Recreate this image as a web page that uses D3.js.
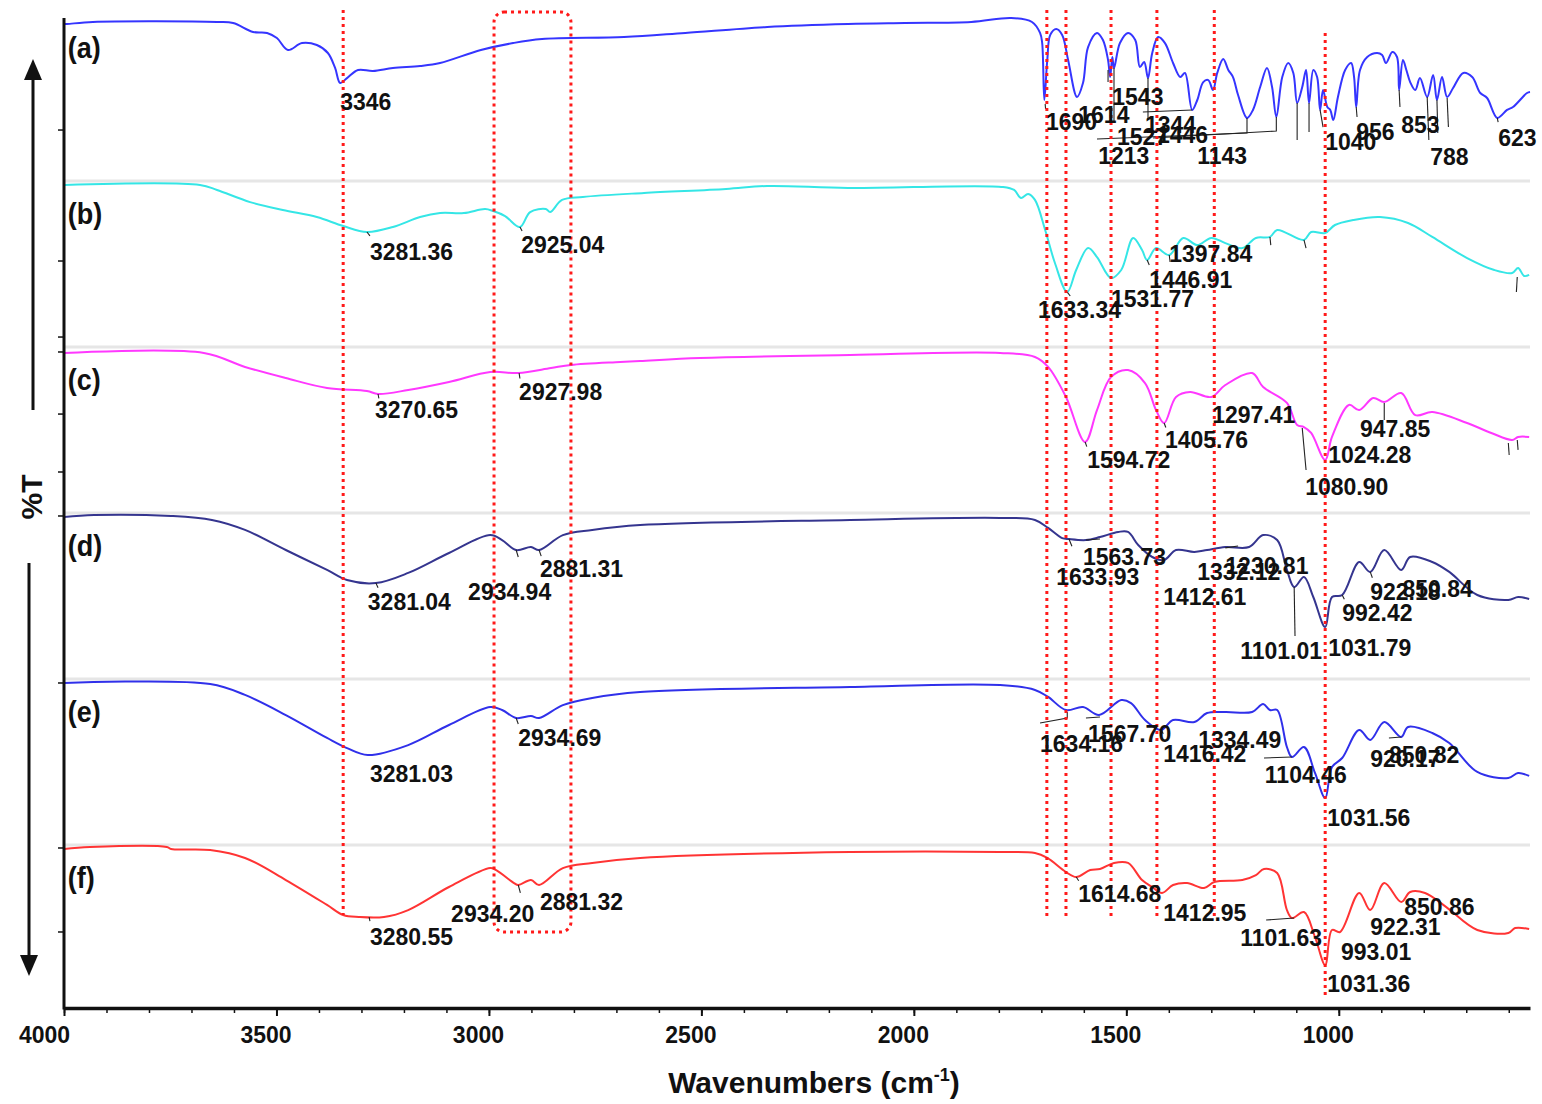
<!DOCTYPE html>
<html><head><meta charset="utf-8">
<script src="https://cdn.jsdelivr.net/npm/d3@7"></script>
<style>
html,body{margin:0;padding:0;background:#fff;}
svg{display:block;font-family:"Liberation Sans",Arial,sans-serif;}
</style></head><body>
<svg id="chart" width="1542" height="1104"></svg>
<script>
// ---------------- DATA ----------------
const wavenumberTicks = [4000,3500,3000,2500,2000,1500,1000];
const minorTicks = d3.range(4000, 549, -100);
const panelNames = ["(a)","(b)","(c)","(d)","(e)","(f)"];
const panelColors = ["#3535ff","#35e6e6","#ff38ff","#35358f","#3030ea","#ff3434"];

const seriesA = [[4000,94.6],[3993,94.6],[3932,95.8],[3640,95.8],[3602,95.2],[3555,89.8],[3522,89.2],[3499,86.1],[3473,78.9],[3440,83.1],[3405,81.9],[3379,77.1],[3362,68.1],[3350,59.0],[3334,62.0],[3308,66.9],[3273,66.3],[3226,68.1],[3162,69.3],[3115,71.1],[3019,78.9],[2943,83.1],[2875,85.5],[2682,86.7],[2538,89.2],[2345,92.8],[2155,94.6],[2021,95.2],[1865,95.8],[1771,98.2],[1722,95.8],[1703,89.2],[1698,83.1],[1693,48.8],[1686,72.9],[1679,88.0],[1665,91.6],[1651,88.0],[1637,72.9],[1616,50.6],[1602,59.0],[1590,80.7],[1569,89.2],[1555,84.9],[1543,72.9],[1538,62.6],[1533,74.7],[1529,68.1],[1515,83.1],[1496,89.2],[1479,84.9],[1468,68.7],[1458,71.7],[1449,62.0],[1439,77.1],[1425,86.7],[1409,83.1],[1390,71.1],[1373,62.6],[1362,65.1],[1345,42.8],[1333,48.8],[1319,59.6],[1307,60.8],[1296,54.8],[1286,65.1],[1272,73.5],[1260,66.9],[1249,62.6],[1237,51.8],[1216,38.0],[1202,42.8],[1185,56.6],[1169,68.1],[1157,56.6],[1147,38.6],[1133,62.6],[1119,71.1],[1107,65.1],[1098,47.0],[1086,56.6],[1077,66.9],[1070,47.0],[1060,66.9],[1051,62.6],[1044,42.8],[1037,54.8],[1027,44.6],[1020,42.8],[1013,36.7],[1002,50.6],[985,66.9],[971,71.1],[964,62.6],[959,44.6],[950,66.9],[933,74.7],[910,77.1],[898,75.9],[889,71.1],[874,77.7],[863,74.7],[858,54.8],[849,72.9],[841,66.9],[832,59.6],[820,54.8],[809,62.0],[792,50.6],[778,63.9],[769,48.8],[757,62.6],[745,50.6],[731,56.0],[707,65.1],[686,62.6],[667,53.0],[651,50.0],[627,38.0],[604,42.8],[590,44.6],[557,53.0],[550,53.6]];
const seriesB = [[4000,97.6],[3680,97.6],[3640,94.6],[3562,87.3],[3485,82.5],[3405,78.3],[3343,72.9],[3287,69.3],[3226,72.3],[3162,78.3],[3115,80.7],[3059,80.7],[3009,83.1],[2990,81.9],[2962,78.9],[2927,72.3],[2903,81.3],[2866,83.1],[2856,81.3],[2828,88.6],[2779,90.4],[2635,92.8],[2442,95.2],[2345,97.0],[2155,95.8],[1790,96.4],[1764,94.6],[1748,89.8],[1731,92.2],[1715,88.6],[1691,70.5],[1668,50.6],[1639,33.1],[1618,46.4],[1590,59.6],[1569,54.2],[1536,41.6],[1512,46.4],[1484,65.7],[1463,58.4],[1451,52.4],[1430,59.6],[1399,55.4],[1366,65.7],[1333,61.4],[1300,65.7],[1267,62.6],[1227,59.6],[1195,65.7],[1162,66.3],[1145,70.5],[1082,64.5],[1065,69.3],[1032,68.7],[1009,73.5],[966,76.5],[903,78.3],[837,74.7],[780,66.3],[698,53.6],[634,46.4],[592,44.6],[578,47.6],[564,42.8],[552,43.4]];
const seriesC = [[4000,96.4],[3671,96.4],[3574,88.0],[3478,81.3],[3381,75.3],[3287,73.5],[3261,71.7],[3190,74.1],[3094,78.9],[2997,84.9],[2931,84.3],[2854,87.3],[2807,89.2],[2691,91.0],[2644,91.6],[2503,93.4],[2150,95.2],[1797,96.4],[1715,94.0],[1684,88.0],[1642,69.9],[1597,42.8],[1569,62.0],[1536,81.9],[1496,86.1],[1456,78.3],[1430,62.0],[1411,54.2],[1383,69.9],[1350,72.9],[1300,69.9],[1267,77.1],[1204,84.3],[1178,75.9],[1122,66.3],[1098,53.0],[1082,51.8],[1065,48.2],[1032,31.9],[1016,45.8],[976,65.1],[952,62.0],[919,69.3],[893,66.9],[853,72.3],[820,59.0],[780,60.8],[698,54.2],[641,48.2],[592,44.0],[578,45.8],[552,45.8]];
const seriesD = [[4000,97.6],[3929,98.8],[3748,98.2],[3652,95.8],[3574,89.8],[3478,77.7],[3381,65.7],[3334,59.6],[3266,57.8],[3190,63.9],[3094,75.9],[2997,86.7],[2969,83.7],[2936,77.7],[2901,79.5],[2882,77.7],[2826,86.7],[2757,89.8],[2644,92.8],[2150,95.8],[1797,97.0],[1715,95.8],[1684,91.0],[1651,84.9],[1635,84.3],[1595,83.7],[1562,85.5],[1519,88.6],[1496,88.6],[1472,80.7],[1439,73.5],[1411,71.7],[1383,77.7],[1340,76.5],[1310,77.7],[1267,79.5],[1211,79.5],[1178,86.7],[1145,83.7],[1122,65.7],[1105,55.4],[1082,61.4],[1060,49.4],[1032,31.3],[1016,49.4],[992,50.6],[952,70.5],[926,64.5],[893,77.7],[853,65.7],[832,73.5],[780,70.5],[740,64.5],[674,50.6],[601,47.6],[578,49.4],[552,48.2]];
const seriesE = [[4000,97.6],[3656,97.0],[3574,90.4],[3478,78.3],[3381,64.5],[3334,58.4],[3285,54.2],[3190,60.2],[3094,72.3],[2997,83.1],[2969,81.3],[2936,76.5],[2901,77.7],[2882,76.5],[2826,84.3],[2757,88.6],[2644,92.2],[2150,95.2],[1797,96.4],[1715,93.4],[1684,89.2],[1642,81.3],[1602,83.1],[1564,78.3],[1512,87.3],[1489,85.5],[1456,75.3],[1418,69.3],[1390,75.3],[1340,74.1],[1310,79.5],[1267,80.1],[1204,80.1],[1178,84.9],[1162,81.3],[1145,81.3],[1122,59.0],[1110,53.0],[1082,59.0],[1056,43.4],[1032,28.3],[1016,47.0],[992,52.4],[952,69.3],[926,63.3],[893,74.1],[853,65.1],[837,71.1],[780,67.5],[740,61.4],[674,44.0],[601,40.4],[578,43.4],[552,41.6]];
const seriesF = [[4000,97.6],[3939,98.8],[3758,98.8],[3748,97.6],[3656,97.0],[3574,92.2],[3478,78.9],[3381,63.9],[3343,57.8],[3306,56.6],[3247,56.6],[3190,60.8],[3094,74.7],[2997,86.1],[2983,84.9],[2941,77.1],[2931,75.9],[2901,78.9],[2882,75.9],[2826,86.1],[2757,89.2],[2644,92.2],[2150,95.8],[1797,95.8],[1715,95.2],[1686,92.2],[1642,83.7],[1618,80.7],[1585,84.9],[1562,85.5],[1529,89.2],[1496,89.2],[1463,78.9],[1439,74.7],[1416,71.1],[1390,75.9],[1357,77.1],[1317,74.1],[1293,77.7],[1227,78.9],[1195,81.9],[1176,85.5],[1145,83.1],[1122,60.8],[1110,56.0],[1082,59.6],[1056,44.6],[1032,27.7],[1016,48.8],[997,47.6],[952,71.1],[926,60.8],[893,77.1],[853,65.7],[832,71.7],[797,71.1],[747,62.6],[674,48.8],[601,47.0],[585,50.0],[552,49.4]];

// peak labels: [text, wavenumber at left edge, %T at baseline]
const labelsA = [["3346",3350,42.8],["1690",1689,30.7],["1614",1613,34.9],["1543",1533,45.8],["1344",1456,28.9],["1446",1428,22.9],["1527",1522,21.7],["1213",1566,10.2],["1143",1333,10.2],["1040",1032,18.7],["956",959,24.7],["853",853,28.9],["788",785,9.6],["623",625,21.1]];
const labelsB = [["3281.36",3280,52.4],["2925.04",2924,56.6],["1633.34",1708,17.5],["1531.77",1536,24.1],["1446.91",1446,35.5],["1397.84",1399,51.2]];
const labelsC = [["3270.65",3268,57.2],["2927.98",2929,68.1],["1594.72",1592,27.1],["1405.76",1409,39.2],["1297.41",1298,54.2],["947.85",950,45.8],["1024.28",1025,30.1],["1080.90",1079,10.8]];
const labelsD = [["3281.04",3285,41.6],["2934.94",3049,47.6],["2881.31",2880,61.4],["1563.73",1602,68.7],["1633.93",1665,56.6],["1412.61",1413,44.6],["1332.12",1333,59.6],["1230.81",1267,63.3],["992.42",992,34.9],["922.18",926,47.6],["850.84",850,49.4],["1101.01",1232,12.0],["1031.79",1025,13.9]];
const labelsE = [["3281.03",3280,38.0],["2934.69",2931,59.6],["1634.16",1703,56.0],["1567.70",1590,62.0],["1416.42",1413,50.0],["1334.49",1331,58.4],["1104.46",1174,37.3],["920.17",926,47.0],["850.82",882,49.4],["1031.56",1027,11.4]];
const labelsF = [["3280.55",3280,39.8],["2934.20",3089,53.6],["2881.32",2880,60.8],["1614.68",1613,65.7],["1412.95",1413,54.2],["1101.63",1232,39.2],["993.01",995,30.7],["922.31",926,45.8],["850.86",846,57.8],["1031.36",1027,11.4]];

// peak leader lines: lists of [wavenumber, %T]
const leadersA = [[[1691,46.4],[1690,43.4]],[[1543,66.9],[1543,59.6]],[[1529,68.1],[1529,34.9]],[[1461,41.6],[1345,42.8]],[[1449,62.0],[1449,36.7]],[[1216,38.0],[1216,28.9],[1569,25.3]],[[1147,38.6],[1147,30.1],[1437,25.9]],[[1098,47.0],[1098,24.7]],[[1070,47.0],[1070,29.5]],[[1044,42.8],[1037,32.5]],[[959,44.6],[957,38.6]],[[858,54.8],[856,44.6]],[[792,50.6],[788,24.7]],[[769,48.8],[767,28.9]],[[745,50.0],[742,32.5]],[[627,38.0],[625,35.5]]];
const leadersB = [[[3287,69.3],[3280,66.9]],[[2927,72.3],[2922,69.9]],[[1639,33.1],[1632,30.7]],[[1451,52.4],[1446,49.4]],[[1399,55.4],[1397,51.2]],[[1162,66.3],[1160,61.4]],[[1082,64.5],[1077,59.6]],[[580,42.2],[582,33.1]]];
const leadersC = [[[3261,71.7],[3259,69.0]],[[2929,84.3],[2927,81.0]],[[1086,51.2],[1077,25.9]],[[893,66.3],[893,56.0]],[[601,42.2],[599,34.9]],[[580,44.0],[578,38.0]],[[1597,42.8],[1593,40.0]],[[1411,54.2],[1407,51.5]]];
const leadersD = [[[1105,55.4],[1103,25.9]],[[2936,77.7],[2931,73.5]],[[2882,77.7],[2877,74.0]],[[1635,84.3],[1628,80.0]],[[1595,83.7],[1562,84.3]],[[1267,79.0],[1237,80.1]],[[3266,57.8],[3261,55.0]],[[992,50.6],[987,48.0]],[[926,64.5],[921,61.0]]];
const leadersE = [[[1703,73.5],[1639,76.5],[1639,80.1]],[[1595,76.5],[1562,77.1]],[[1176,52.4],[1110,53.0]],[[882,64.5],[853,65.1]],[[2936,76.5],[2931,72.9]],[[1418,69.3],[1413,67.0]]];
const leadersF = [[[1171,54.8],[1105,56.0]],[[2931,75.9],[2926,71.1]],[[1618,80.7],[1612,78.5]],[[3282,56.6],[3280,54.2]]];

// left-axis ticks per panel (%T)
const yTicksPerPanel = [[30.7],[51.8,6.0],[97.0,59.6,24.7],[98.2],[97.6],[98.2,47.6]];

// red dotted reference lines: [wavenumber, %T top (panel a), %T bottom (panel f)]
const refLines = [[3343,103,57.8],[1687,103,56.0],[1642,103,56.0],[1536,103,56.0],[1428,103,56.0],[1293,103,56.0],[1032,89.2,9.6]];
// red dotted box: [wn left, wn right, %T top (panel a), %T bottom (panel f)]
const refBox = [2988,2807,101.8,47.6];

// ---------------- LAYOUT ----------------
const L = {left:64, right:1530, top:15, panelH:166, axisY:1008, axisTop:18};
const series = [seriesA,seriesB,seriesC,seriesD,seriesE,seriesF];
const labels = [labelsA,labelsB,labelsC,labelsD,labelsE,labelsF];
const leaders = [leadersA,leadersB,leadersC,leadersD,leadersE,leadersF];

const svg = d3.select("#chart");
const x = d3.scaleLinear().domain([4000,550]).range([L.left,L.right]);
const ys = panelNames.map((_,i)=>d3.scaleLinear().domain([0,100])
  .range([L.top+(i+1)*L.panelH, L.top+i*L.panelH]));

// panel separators
svg.append("g").selectAll("line").data(d3.range(1,6)).join("line")
  .attr("x1",L.left).attr("x2",L.right)
  .attr("y1",i=>ys[i](100)).attr("y2",i=>ys[i](100))
  .attr("stroke","#e6e6e6").attr("stroke-width",3);

// spectra
const line = ys2 => d3.line().x(d=>x(d[0])).y(d=>ys2(d[1]));
const smoothLine = ys2 => d3.line().x(d=>x(d[0])).y(d=>ys2(d[1])).curve(d3.curveCatmullRom.alpha(0.5));
series.forEach((s,i)=>{
  svg.append("path").datum(s).attr("d",smoothLine(ys[i]))
    .attr("fill","none").attr("stroke",panelColors[i]).attr("stroke-width",2)
    .attr("stroke-linejoin","round");
});

// leader lines
leaders.forEach((ls,i)=>{
  svg.append("g").selectAll("path").data(ls).join("path")
    .attr("d",line(ys[i])).attr("fill","none")
    .attr("stroke","#222").attr("stroke-width",1.1);
});

// reference red dotted lines
const red = "#ff1a1a";
svg.append("g").selectAll("line").data(refLines).join("line")
  .attr("x1",d=>x(d[0])).attr("x2",d=>x(d[0]))
  .attr("y1",d=>ys[0](d[1])).attr("y2",d=>ys[5](d[2]))
  .attr("stroke",red).attr("stroke-width",3).attr("stroke-dasharray","3,4");
svg.append("rect")
  .attr("x",x(refBox[0])).attr("width",x(refBox[1])-x(refBox[0]))
  .attr("y",ys[0](refBox[2])).attr("height",ys[5](refBox[3])-ys[0](refBox[2]))
  .attr("rx",10).attr("ry",10).attr("fill","none")
  .attr("stroke",red).attr("stroke-width",3).attr("stroke-dasharray","3,4");

// peak labels
labels.forEach((ls,i)=>{
  svg.append("g").selectAll("text").data(ls).join("text")
    .attr("transform",d=>`translate(${x(d[1])},${ys[i](d[2])}) scale(1,1.08)`)
    .attr("font-size",23).attr("font-weight","bold").attr("fill","#111")
    .text(d=>d[0]);
});

// panel letters
svg.append("g").selectAll("text").data(panelNames).join("text")
  .attr("transform",(d,i)=>`translate(${x(3991)},${ys[i](74.1)}) scale(1,1.08)`)
  .attr("font-size",27).attr("font-weight","bold").attr("fill","#111")
  .text(d=>d);

// y axis line + ticks
svg.append("line").attr("x1",L.left).attr("x2",L.left)
  .attr("y1",L.axisTop).attr("y2",L.axisY+1.5)
  .attr("stroke","#111").attr("stroke-width",3);
yTicksPerPanel.forEach((tv,i)=>{
  svg.append("g").selectAll("line").data(tv).join("line")
    .attr("x1",L.left-6).attr("x2",L.left)
    .attr("y1",d=>ys[i](d)).attr("y2",d=>ys[i](d))
    .attr("stroke","#111").attr("stroke-width",1.5);
});

// x axis
const gx = svg.append("g").attr("transform",`translate(0,${L.axisY})`);
gx.call(d3.axisBottom(x).tickValues(minorTicks).tickSize(5).tickSizeOuter(0).tickFormat(""));
gx.select(".domain").remove();
gx.selectAll(".tick line").attr("stroke","#111").attr("stroke-width",1.5);
const gx2 = svg.append("g").attr("transform",`translate(0,${L.axisY})`);
gx2.call(d3.axisBottom(x).tickValues(wavenumberTicks).tickSize(8).tickSizeOuter(0).tickFormat(d3.format("d")));
gx2.select(".domain").attr("stroke","#111").attr("stroke-width",3.5);
gx2.selectAll(".tick line").attr("stroke","#111").attr("stroke-width",2);
gx2.selectAll(".tick text")
  .attr("y",0).attr("dy",null)
  .attr("transform",d=>`translate(${d===4000?-20:-11},35) scale(1,1.08)`)
  .attr("font-size",23).attr("font-weight","bold").attr("fill","#111")
  .attr("font-family","'Liberation Sans',Arial,sans-serif");

// axis titles
const xt = svg.append("text").attr("x",814).attr("y",1093)
  .attr("text-anchor","middle").attr("font-size",30).attr("font-weight","bold").attr("fill","#111");
xt.append("tspan").text("Wavenumbers (cm");
xt.append("tspan").attr("font-size",18).attr("dy",-12).text("-1");
xt.append("tspan").attr("dy",12).text(")");

svg.append("text").attr("transform","translate(42,497) rotate(-90)")
  .attr("text-anchor","middle").attr("font-size",30).attr("font-weight","bold").attr("fill","#111")
  .text("%T");

// arrows
const arrowUp = {x:33, y1:410, tip:59};
const arrowDown = {x:29, y1:563, tip:976};
svg.append("line").attr("x1",arrowUp.x).attr("x2",arrowUp.x).attr("y1",arrowUp.y1).attr("y2",arrowUp.tip+15)
  .attr("stroke","#111").attr("stroke-width",3);
svg.append("path").attr("d",d3.line()([[arrowUp.x,arrowUp.tip],[arrowUp.x-9,arrowUp.tip+21],[arrowUp.x+9,arrowUp.tip+21]])+"Z").attr("fill","#111");
svg.append("line").attr("x1",arrowDown.x).attr("x2",arrowDown.x).attr("y1",arrowDown.y1).attr("y2",arrowDown.tip-15)
  .attr("stroke","#111").attr("stroke-width",3);
svg.append("path").attr("d",d3.line()([[arrowDown.x,arrowDown.tip],[arrowDown.x-9,arrowDown.tip-21],[arrowDown.x+9,arrowDown.tip-21]])+"Z").attr("fill","#111");
</script>
</body></html>
